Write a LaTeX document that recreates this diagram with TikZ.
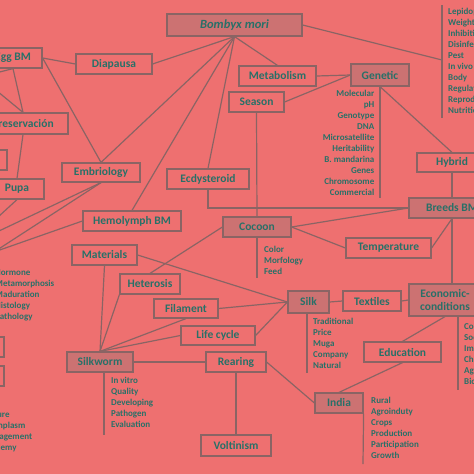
\documentclass[tikz,border=0pt]{standalone}
\usepackage{fontspec}
\setmainfont{Carlito}
\usetikzlibrary{positioning}

\definecolor{bgred}{RGB}{238,112,112}
\definecolor{hubfill}{RGB}{204,114,114}
\definecolor{edgegrey}{RGB}{138,100,100}
\definecolor{txtteal}{RGB}{40,112,104}

\begin{document}
\begin{tikzpicture}[
  x=1pt, y=-1pt,
  box/.style={rectangle, draw=edgegrey, line width=1.2pt, text=txtteal,
              font=\fontsize{11.5}{12.5}\selectfont\bfseries, inner sep=0pt,
              minimum height=20pt, align=center},
  hubbox/.style={box, fill=hubfill},
  listtxt/.style={text=txtteal, font=\fontsize{9}{11}\selectfont\bfseries,
                  inner sep=0pt},
  link/.style={draw=edgegrey, line width=1.2pt}
]
\useasboundingbox (0,0) rectangle (474,474);
\clip (0,0) rectangle (474,474);
\fill[bgred] (0,0) rectangle (474,474);

% Centre
\node[hubbox, minimum width=135pt, minimum height=22pt,
      font=\fontsize{12.5}{13.5}\selectfont\bfseries\itshape] (bombyx) at (234.5,25) {Bombyx mori};

% Left column (partly outside the frame)
\node[box, minimum width=58pt] (eggbm)   at (13,58)    {Egg BM};
\node[box, minimum width=76pt] (diapausa) at (114,64)  {Diapausa};
\node[box, minimum width=90pt, minimum height=21pt] (preserv) at (23,123.5) {Preservación};
\node[box, minimum width=37pt] (sidea)   at (-11.5,160) {};
\node[box, minimum width=54pt] (pupa)    at (17,189)   {Pupa};
\node[box, minimum width=78pt, minimum height=19pt] (embrio) at (101,172.5) {Embriology};
\node[box, minimum width=98pt] (hemo)    at (132,221)  {Hemolymph BM};
\node[box, minimum width=34pt] (sideb)   at (-13,347)  {};
\node[box, minimum width=34pt] (sidec)   at (-13,376)  {};

% Middle
\node[box, minimum width=77pt] (metab)   at (277.5,76) {Metabolism};
\node[box, minimum width=55pt] (season)  at (256.5,102) {Season};
\node[box, minimum width=82pt] (ecdy)    at (208,179)  {Ecdysteroid};
\node[hubbox, minimum width=68pt] (cocoon) at (257,227) {Cocoon};
\node[box, minimum width=65pt] (materials) at (104.5,255) {Materials};
\node[box, minimum width=60pt] (hetero)  at (150,284)  {Heterosis};
\node[box, minimum width=64pt, minimum height=19pt] (filament) at (186,308.5) {Filament};
\node[box, minimum width=74pt, minimum height=19pt] (lifecycle) at (218,335.5) {Life cycle};
\node[hubbox, minimum width=66pt] (silkworm) at (100,362) {Silkworm};
\node[box, minimum width=60pt] (rearing) at (236,362)  {Rearing};
\node[box, minimum width=70pt, minimum height=21pt] (voltinism) at (236,445.5) {Voltinism};

% Right
\node[hubbox, minimum width=58pt, minimum height=22pt] (genetic) at (380,75) {Genetic};
\node[box, minimum width=70pt, minimum height=19pt] (hybrid) at (452,162.5) {Hybrid};
\node[hubbox, minimum width=86pt] (breeds) at (452,208) {Breeds BM};
\node[box, minimum width=85pt] (temp)    at (388.5,248) {Temperature};
\node[hubbox, minimum width=41pt, minimum height=22pt] (silk) at (308.5,302) {Silk};
\node[box, minimum width=58pt] (textiles) at (372,301) {Textiles};
\node[hubbox, minimum width=72pt, minimum height=32pt,
      font=\fontsize{11.5}{13}\selectfont\bfseries] (econ) at (445,300) {Economic-\\conditions};
\node[box, minimum width=77pt] (education) at (402.5,352) {Education};
\node[hubbox, minimum width=48pt] (india) at (339,403) {India};

% Word lists
\node[listtxt, anchor=north west, align=left] (biolist) at (448,8.2)
  {Lepidoptera\\Weight\\Inhibition\\Disinfection\\Pest\\In vivo\\Body\\Regulation\\Reproduction\\Nutrition};
\node[listtxt, anchor=north east, align=right] (genlist) at (374.5,90.2)
  {Molecular\\pH\\Genotype\\DNA\\Microsatellite\\Heritability\\B. mandarina\\Genes\\Chromosome\\Commercial};
\node[listtxt, anchor=north west, align=left] (coclist) at (264,246.2)
  {Color\\Morfology\\Feed};
\node[listtxt, anchor=north west, align=left] (silklist) at (313,318.2)
  {Traditional\\Price\\Muga\\Company\\Natural};
\node[listtxt, anchor=north west, align=left] (wormlist) at (111,377.2)
  {In vitro\\Quality\\Developing\\Pathogen\\Evaluation};
\node[listtxt, anchor=north west, align=left] (indialist) at (371,397.2)
  {Rural\\Agroinduty\\Crops\\Production\\Participation\\Growth};
\node[listtxt, anchor=north west, align=left] (econlist) at (464,323.2)
  {Cost\\Social\\Impact\\China\\Agriculture\\Biology};
\node[listtxt, anchor=north west, align=left] (larvalist) at (-5,269.2)
  {Hormone\\Metamorphosis\\Maduration\\Histology\\Pathology};
\node[listtxt, anchor=north west, align=left] (lowlist) at (-18,411.2)
  {Culture\\Germplasm\\Management\\Academy};

% Free ends (bars and off-frame nodes)
\coordinate (biotop)  at (442,5);
\coordinate (biobot)  at (442,118);
\coordinate (biojoin) at (442,60);
\coordinate (genbar)  at (380,198);
\coordinate (cocbar)  at (257,278);
\coordinate (silkbar) at (307,373);
\coordinate (wormbar) at (104,435);
\coordinate (indiabar) at (363,464);
\coordinate (econbar) at (458,390);
\coordinate (lvnode)  at (-6,252);
\coordinate (offegg)  at (-20,77);
\coordinate (offpupa) at (-15,229);
\coordinate (offemb)  at (-20,240);

% --- Connectors ---
% Bombyx mori
\draw[link] (bombyx.east) -- (biojoin);
\draw[link] (biotop) -- (biobot);
\draw[link] (bombyx.south) -- (diapausa.east);
\draw[link] (bombyx.south) -- (embrio.north);
\draw[link] (bombyx.south) -- (hemo.north);
\draw[link] (bombyx.south) -- (ecdy.north);
\draw[link] (bombyx.south) -- (metab.north);

% Left side
\draw[link] (eggbm.east) -- (diapausa.west);
\draw[link] (eggbm.east) -- (embrio.north);
\draw[link] (eggbm.south) -- (preserv.north);
\draw[link] (offegg) -- (eggbm.south);
\draw[link] (offegg) -- (preserv.north);
\draw[link] (preserv.south) -- (pupa.north);
\draw[link] (pupa.south) -- (offpupa);
\draw[link] (embrio.south) -- (offemb);
\draw[link] (embrio.south) -- (lvnode);
\draw[link] (hemo.west) -- (lvnode);

% Genetic and breeds
\draw[link] (metab.east) -- (genetic.west);
\draw[link] (season.east) -- (genetic.west);
\draw[link] (genetic.south) -- (genbar);
\draw[link] (genetic.south) -- (hybrid.north);
\draw[link] (hybrid.south) -- (breeds.north);
\draw[link] (ecdy.south) |- (breeds.west);
\draw[link] (season.south) -- (cocoon.north);
\draw[link] (cocoon.south) -- (cocbar);
\draw[link] (cocoon.east) -- (breeds.west);
\draw[link] (cocoon.east) -- (temp.west);
\draw[link] (breeds.south) -- (temp.east);
\draw[link] (breeds.south) -- (breeds.south |- econ.north);

% Silk and economy
\draw[link] (econ.west) -- (textiles.east);
\draw[link] (silk.east) -- (textiles.west);
\draw[link] (silkbar |- silk.south) -- (silkbar);
\draw[link] (econbar |- econ.south) -- (econbar);
\draw[link] (econ.south) -- (education.north);
\draw[link] (education.south) -- (india.north);
\draw[link] (india.south east) -- (indiabar);

% Silkworm
\draw[link] (materials.south) -- (silkworm.north);
\draw[link] (materials.east) -- (silk.west);
\draw[link] (hetero.north) -- (cocoon.west);
\draw[link] (silkworm.north) -- (hetero.south west);
\draw[link] (silkworm.north) -- (filament.south);
\draw[link] (silkworm.north) -- (lifecycle.west);
\draw[link] (filament.east) -- (silk.west);
\draw[link] (lifecycle.east) -- (silk.west);
\draw[link] (wormbar |- silkworm.south) -- (wormbar);
\draw[link] (silkworm.east) -- (rearing.west);
\draw[link] (rearing.east) -- (india.west);
\draw[link] (rearing.south) -- (voltinism.north);

\end{tikzpicture}
\end{document}
